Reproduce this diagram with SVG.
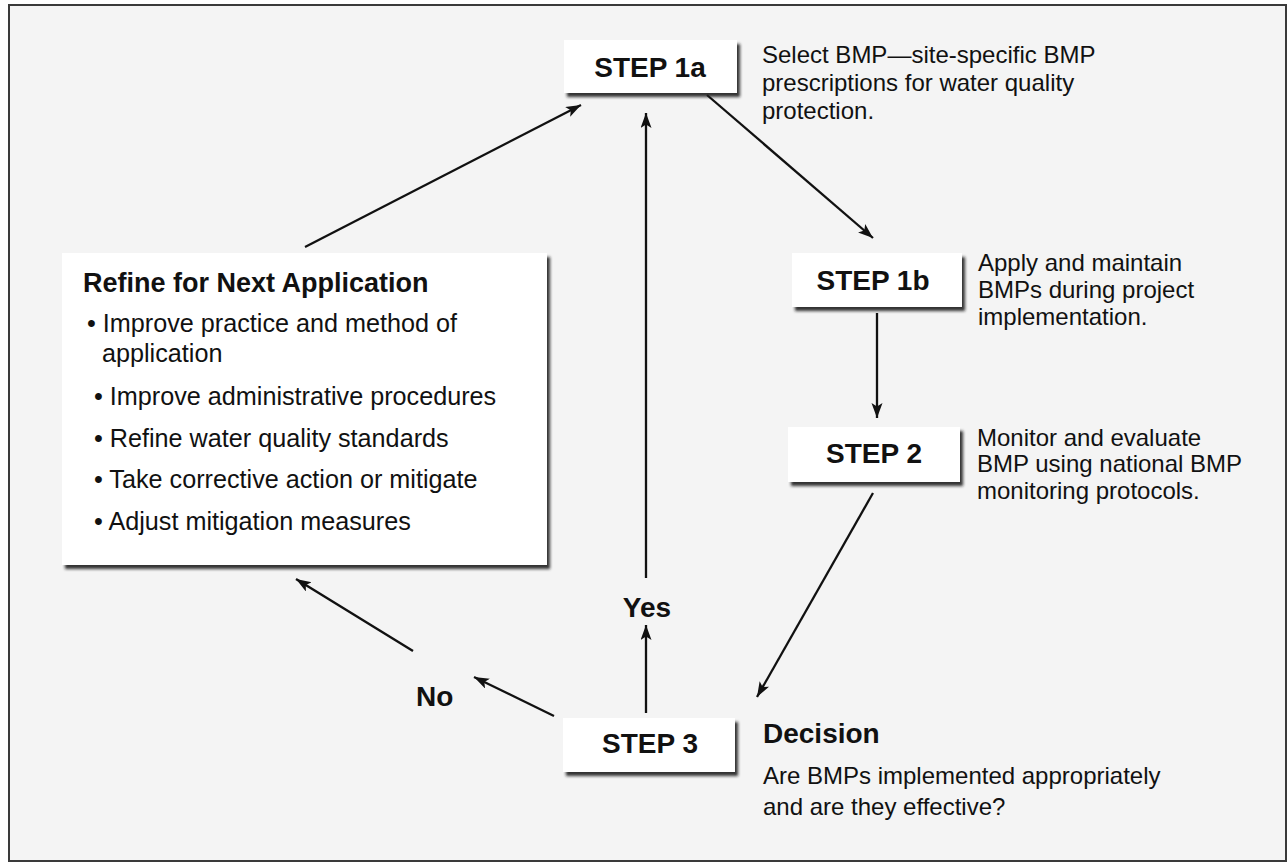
<svg xmlns="http://www.w3.org/2000/svg" width="1288" height="863" viewBox="0 0 1288 863">
<style>
.bg{fill:#f4f4f4;stroke:#3a3a3a;stroke-width:2}
.box{fill:#ffffff;filter:url(#sh)}
.step{font-family:"Liberation Sans",Arial,sans-serif;font-weight:bold;font-size:28px;fill:#111;text-anchor:middle}
.hd{font-family:"Liberation Sans",Arial,sans-serif;font-weight:bold;font-size:27px;fill:#111}
.lbl{font-family:"Liberation Sans",Arial,sans-serif;font-weight:bold;font-size:28px;fill:#111}
.t{font-family:"Liberation Sans",Arial,sans-serif;font-size:24px;fill:#111}
.b{font-family:"Liberation Sans",Arial,sans-serif;font-size:25.2px;fill:#111}
.c{stroke:#111;stroke-width:2.3;fill:none;marker-end:url(#ah)}
</style>
<defs>
<filter id="sh" x="-10%" y="-10%" width="125%" height="130%">
<feDropShadow dx="3" dy="4" stdDeviation="1.8" flood-color="#1a1a1a" flood-opacity="0.9"/>
</filter>
<marker id="ah" markerUnits="userSpaceOnUse" markerWidth="18" markerHeight="14" refX="15" refY="5.5" orient="auto">
<path d="M0,0 L15,5.5 L0,11 L3.5,5.5 z" fill="#111"/>
</marker>
</defs>
<rect class="bg" x="9" y="5" width="1277" height="856"/>
<g id="connectors">
<line class="c" x1="305" y1="247" x2="581" y2="105"/>
<line class="c" x1="646" y1="578" x2="646" y2="113"/>
<line class="c" x1="707" y1="95" x2="873" y2="238"/>
<line class="c" x1="877" y1="313" x2="877" y2="418"/>
<line class="c" x1="873" y1="493" x2="757" y2="697"/>
<line class="c" x1="646" y1="713" x2="646" y2="625"/>
<line class="c" x1="554" y1="716" x2="474" y2="677"/>
<line class="c" x1="413" y1="651" x2="296" y2="579"/>
<text class="lbl" x="647" y="617" text-anchor="middle">Yes</text>
<text class="lbl" x="416" y="706">No</text>
</g>
<g id="step1a">
<rect class="box" x="564" y="40" width="173" height="53"/>
<text class="step" x="650" y="77">STEP 1a</text>
<text class="t" x="762" y="63">Select BMP—site-specific BMP</text>
<text class="t" x="762" y="91">prescriptions for water quality</text>
<text class="t" x="762" y="119">protection.</text>
</g>
<g id="step1b">
<rect class="box" x="792" y="253" width="170" height="54"/>
<text class="step" x="873" y="290">STEP 1b</text>
<text class="t" x="978" y="271">Apply and maintain</text>
<text class="t" x="978" y="298">BMPs during project</text>
<text class="t" x="978" y="325">implementation.</text>
</g>
<g id="step2">
<rect class="box" x="788" y="427" width="172" height="55"/>
<text class="step" x="874" y="463">STEP 2</text>
<text class="t" x="977" y="446">Monitor and evaluate</text>
<text class="t" x="977" y="472">BMP using national BMP</text>
<text class="t" x="977" y="499">monitoring protocols.</text>
</g>
<g id="step3">
<rect class="box" x="563" y="718" width="172" height="54"/>
<text class="step" x="650" y="753">STEP 3</text>
<text class="lbl" x="763" y="743">Decision</text>
<text class="t" x="763" y="784">Are BMPs implemented appropriately</text>
<text class="t" x="763" y="815">and are they effective?</text>
</g>
<g id="refine">
<rect class="box" x="62" y="253" width="485" height="312"/>
<text class="hd" x="83" y="292">Refine for Next Application</text>
<text class="b" x="87" y="332">• Improve practice and method of</text>
<text class="b" x="102" y="362">application</text>
<text class="b" x="94" y="405">• Improve administrative procedures</text>
<text class="b" x="94" y="447">• Refine water quality standards</text>
<text class="b" x="94" y="488">• Take corrective action or mitigate</text>
<text class="b" x="94" y="530">• Adjust mitigation measures</text>
</g>
</svg>
